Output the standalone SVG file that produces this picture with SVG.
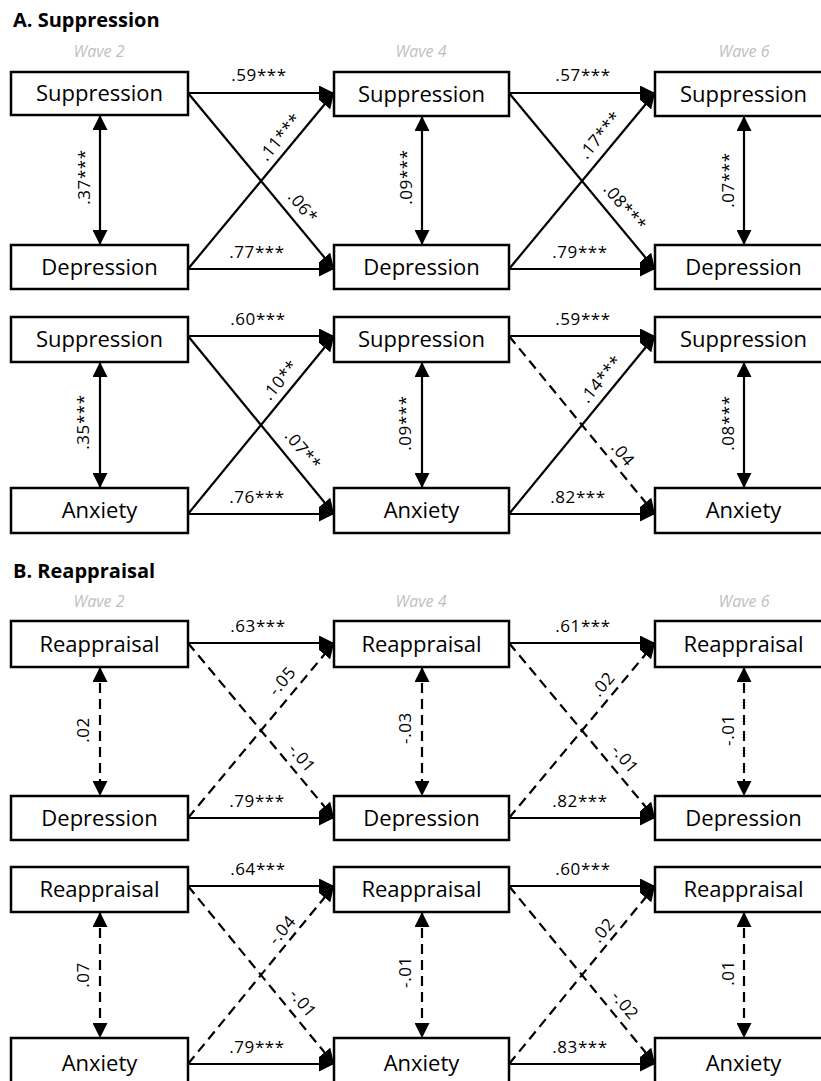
<svg xmlns="http://www.w3.org/2000/svg" width="821" height="1081" viewBox="0 0 821 1081">
<style>
.bg{fill:#fff}
.box{fill:#fff;stroke:#000;stroke-width:2.5}
.nt{font-family:"Open Sans","Liberation Sans",sans-serif;font-size:22px;fill:#000;text-anchor:middle}
.hd{font-family:"Open Sans","Liberation Sans",sans-serif;font-size:20px;font-weight:bold;fill:#000}
.wv{font-family:"Open Sans","Liberation Sans",sans-serif;font-size:16px;font-style:italic;fill:#bfbfbf;text-anchor:middle}
.lb{font-family:"Open Sans","Liberation Sans",sans-serif;font-size:17px;fill:#000;text-anchor:middle;letter-spacing:0.6px}
.ln{fill:none;stroke:#000;stroke-width:2.2;marker-end:url(#ah)}
.bi{fill:none;stroke:#000;stroke-width:2.2;marker-start:url(#ah);marker-end:url(#ah)}
.d{stroke-dasharray:10,6}
</style>
<defs>
<marker id="ah" markerUnits="userSpaceOnUse" markerWidth="15" markerHeight="15" viewBox="0 0 15 15" refX="15" refY="7.5" orient="auto-start-reverse">
<path d="M0,0 L15,7.5 L0,15 Z" fill="#000"/>
</marker>
</defs>
<rect class="bg" x="0" y="0" width="821" height="1081"/>

<g id="headers">
<text class="hd" x="13" y="27">A. Suppression</text>
<text class="hd" x="13" y="578">B. Reappraisal</text>
<text class="wv" x="99" y="57">Wave 2</text>
<text class="wv" x="421" y="57">Wave 4</text>
<text class="wv" x="744" y="57">Wave 6</text>
<text class="wv" x="99" y="607">Wave 2</text>
<text class="wv" x="421" y="607">Wave 4</text>
<text class="wv" x="744" y="607">Wave 6</text>
</g>

<g id="connectors">
<!-- Panel A top -->
<line class="ln" x1="188" y1="93" x2="334" y2="93"/>
<line class="ln" x1="188" y1="269" x2="334" y2="269"/>
<line class="ln" x1="188" y1="93" x2="334" y2="269"/>
<line class="ln" x1="188" y1="269" x2="334" y2="93"/>
<line class="ln" x1="509" y1="93" x2="655" y2="93"/>
<line class="ln" x1="509" y1="269" x2="655" y2="269"/>
<line class="ln" x1="509" y1="93" x2="655" y2="269"/>
<line class="ln" x1="509" y1="269" x2="655" y2="93"/>
<line class="bi" x1="100" y1="115" x2="100" y2="245"/>
<line class="bi" x1="422" y1="116" x2="422" y2="245"/>
<line class="bi" x1="744" y1="116" x2="744" y2="245"/>
<!-- Panel A bottom -->
<line class="ln" x1="188" y1="336" x2="334" y2="336"/>
<line class="ln" x1="188" y1="514" x2="334" y2="514"/>
<line class="ln" x1="188" y1="336" x2="334" y2="514"/>
<line class="ln" x1="188" y1="514" x2="334" y2="336"/>
<line class="ln" x1="509" y1="336" x2="655" y2="336"/>
<line class="ln" x1="509" y1="514" x2="655" y2="514"/>
<line class="ln d" x1="509" y1="336" x2="655" y2="514"/>
<line class="ln" x1="509" y1="514" x2="655" y2="336"/>
<line class="bi" x1="100" y1="362" x2="100" y2="488"/>
<line class="bi" x1="422" y1="362" x2="422" y2="488"/>
<line class="bi" x1="744" y1="362" x2="744" y2="488"/>
<!-- Panel B top -->
<line class="ln" x1="188" y1="643" x2="334" y2="643"/>
<line class="ln" x1="188" y1="818" x2="334" y2="818"/>
<line class="ln d" x1="188" y1="643" x2="334" y2="818"/>
<line class="ln d" x1="188" y1="818" x2="334" y2="643"/>
<line class="ln" x1="509" y1="643" x2="655" y2="643"/>
<line class="ln" x1="509" y1="818" x2="655" y2="818"/>
<line class="ln d" x1="509" y1="643" x2="655" y2="818"/>
<line class="ln d" x1="509" y1="818" x2="655" y2="643"/>
<line class="bi d" x1="100" y1="667" x2="100" y2="796"/>
<line class="bi d" x1="422" y1="667" x2="422" y2="796"/>
<line class="bi d" x1="744" y1="667" x2="744" y2="796"/>
<!-- Panel B bottom -->
<line class="ln" x1="188" y1="886" x2="334" y2="886"/>
<line class="ln" x1="188" y1="1064" x2="334" y2="1064"/>
<line class="ln d" x1="188" y1="886" x2="334" y2="1064"/>
<line class="ln d" x1="188" y1="1064" x2="334" y2="886"/>
<line class="ln" x1="509" y1="886" x2="655" y2="886"/>
<line class="ln" x1="509" y1="1064" x2="655" y2="1064"/>
<line class="ln d" x1="509" y1="886" x2="655" y2="1064"/>
<line class="ln d" x1="509" y1="1064" x2="655" y2="886"/>
<line class="bi d" x1="100" y1="912" x2="100" y2="1038"/>
<line class="bi d" x1="422" y1="912" x2="422" y2="1038"/>
<line class="bi d" x1="744" y1="912" x2="744" y2="1038"/>

<!-- labels -->
<text class="lb" x="259" y="81">.59***</text>
<text class="lb" x="257" y="258">.77***</text>
<text class="lb" x="583" y="81">.57***</text>
<text class="lb" x="580" y="258">.79***</text>
<text class="lb" transform="translate(84.5,177) rotate(-90)" dy="0.35em">.37***</text>
<text class="lb" transform="translate(406,177) rotate(-90)" dy="0.35em">.09***</text>
<text class="lb" transform="translate(728,180) rotate(-90)" dy="0.35em">.07***</text>
<text class="lb" transform="translate(280,137) rotate(-50)" dy="0.35em">.11***</text>
<text class="lb" transform="translate(303,207) rotate(50)" dy="0.35em">.06*</text>
<text class="lb" transform="translate(600,135) rotate(-50)" dy="0.35em">.17***</text>
<text class="lb" transform="translate(625,207) rotate(50)" dy="0.35em">.08***</text>

<text class="lb" x="258" y="325">.60***</text>
<text class="lb" x="257" y="503">.76***</text>
<text class="lb" x="583" y="325">.59***</text>
<text class="lb" x="578" y="503">.82***</text>
<text class="lb" transform="translate(83,422) rotate(-90)" dy="0.35em">.35***</text>
<text class="lb" transform="translate(405,423) rotate(-90)" dy="0.35em">.09***</text>
<text class="lb" transform="translate(728,423) rotate(-90)" dy="0.35em">.08***</text>
<text class="lb" transform="translate(280,380) rotate(-50)" dy="0.35em">.10**</text>
<text class="lb" transform="translate(303,450) rotate(50)" dy="0.35em">.07**</text>
<text class="lb" transform="translate(601,379) rotate(-50)" dy="0.35em">.14***</text>
<text class="lb" transform="translate(623,454) rotate(50)" dy="0.35em">.04</text>

<text class="lb" x="258" y="632">.63***</text>
<text class="lb" x="257" y="807">.79***</text>
<text class="lb" x="583" y="632">.61***</text>
<text class="lb" x="580" y="807">.82***</text>
<text class="lb" transform="translate(83,730) rotate(-90)" dy="0.35em">.02</text>
<text class="lb" transform="translate(405,728) rotate(-90)" dy="0.35em">-.03</text>
<text class="lb" transform="translate(728,730) rotate(-90)" dy="0.35em">-.01</text>
<text class="lb" transform="translate(282,681) rotate(-50)" dy="0.35em">-.05</text>
<text class="lb" transform="translate(302,758) rotate(50)" dy="0.35em">-.01</text>
<text class="lb" transform="translate(603,684) rotate(-50)" dy="0.35em">.02</text>
<text class="lb" transform="translate(625,759) rotate(50)" dy="0.35em">-.01</text>

<text class="lb" x="258" y="875">.64***</text>
<text class="lb" x="257" y="1053">.79***</text>
<text class="lb" x="583" y="875">.60***</text>
<text class="lb" x="580" y="1053">.83***</text>
<text class="lb" transform="translate(83,975) rotate(-90)" dy="0.35em">.07</text>
<text class="lb" transform="translate(405,972) rotate(-90)" dy="0.35em">-.01</text>
<text class="lb" transform="translate(728,973) rotate(-90)" dy="0.35em">.01</text>
<text class="lb" transform="translate(282,930) rotate(-50)" dy="0.35em">-.04</text>
<text class="lb" transform="translate(303,1003) rotate(50)" dy="0.35em">-.01</text>
<text class="lb" transform="translate(603,930) rotate(-50)" dy="0.35em">.02</text>
<text class="lb" transform="translate(625,1005) rotate(50)" dy="0.35em">-.02</text>
</g>

<!-- Panel A top nodes -->
<g id="a-sup-w2"><rect class="box" x="11" y="72" width="177" height="43"/><text class="nt" x="99.5" y="101">Suppression</text></g>
<g id="a-sup-w4"><rect class="box" x="334" y="72" width="175" height="44"/><text class="nt" x="421.5" y="101.5">Suppression</text></g>
<g id="a-sup-w6"><rect class="box" x="655" y="72" width="177" height="44"/><text class="nt" x="743.5" y="101.5">Suppression</text></g>
<g id="a-dep-w2"><rect class="box" x="11" y="245" width="177" height="44"/><text class="nt" x="99.5" y="274.5">Depression</text></g>
<g id="a-dep-w4"><rect class="box" x="334" y="245" width="175" height="44"/><text class="nt" x="421.5" y="274.5">Depression</text></g>
<g id="a-dep-w6"><rect class="box" x="655" y="245" width="177" height="44"/><text class="nt" x="743.5" y="274.5">Depression</text></g>
<!-- Panel A bottom nodes -->
<g id="a-sup2-w2"><rect class="box" x="11" y="317" width="177" height="45"/><text class="nt" x="99.5" y="347">Suppression</text></g>
<g id="a-sup2-w4"><rect class="box" x="334" y="317" width="175" height="45"/><text class="nt" x="421.5" y="347">Suppression</text></g>
<g id="a-sup2-w6"><rect class="box" x="655" y="317" width="177" height="45"/><text class="nt" x="743.5" y="347">Suppression</text></g>
<g id="a-anx-w2"><rect class="box" x="11" y="488" width="177" height="45"/><text class="nt" x="99.5" y="518">Anxiety</text></g>
<g id="a-anx-w4"><rect class="box" x="334" y="488" width="175" height="45"/><text class="nt" x="421.5" y="518">Anxiety</text></g>
<g id="a-anx-w6"><rect class="box" x="655" y="488" width="177" height="45"/><text class="nt" x="743.5" y="518">Anxiety</text></g>
<!-- Panel B top nodes -->
<g id="b-rea-w2"><rect class="box" x="11" y="621" width="177" height="46"/><text class="nt" x="99.5" y="651.5">Reappraisal</text></g>
<g id="b-rea-w4"><rect class="box" x="334" y="621" width="175" height="46"/><text class="nt" x="421.5" y="651.5">Reappraisal</text></g>
<g id="b-rea-w6"><rect class="box" x="655" y="621" width="177" height="46"/><text class="nt" x="743.5" y="651.5">Reappraisal</text></g>
<g id="b-dep-w2"><rect class="box" x="11" y="796" width="177" height="44"/><text class="nt" x="99.5" y="825.5">Depression</text></g>
<g id="b-dep-w4"><rect class="box" x="334" y="796" width="175" height="44"/><text class="nt" x="421.5" y="825.5">Depression</text></g>
<g id="b-dep-w6"><rect class="box" x="655" y="796" width="177" height="44"/><text class="nt" x="743.5" y="825.5">Depression</text></g>
<!-- Panel B bottom nodes -->
<g id="b-rea2-w2"><rect class="box" x="11" y="867" width="177" height="45"/><text class="nt" x="99.5" y="897">Reappraisal</text></g>
<g id="b-rea2-w4"><rect class="box" x="334" y="867" width="175" height="45"/><text class="nt" x="421.5" y="897">Reappraisal</text></g>
<g id="b-rea2-w6"><rect class="box" x="655" y="867" width="177" height="45"/><text class="nt" x="743.5" y="897">Reappraisal</text></g>
<g id="b-anx-w2"><rect class="box" x="11" y="1038" width="177" height="50"/><text class="nt" x="99.5" y="1071">Anxiety</text></g>
<g id="b-anx-w4"><rect class="box" x="334" y="1038" width="175" height="50"/><text class="nt" x="421.5" y="1071">Anxiety</text></g>
<g id="b-anx-w6"><rect class="box" x="655" y="1038" width="177" height="50"/><text class="nt" x="743.5" y="1071">Anxiety</text></g>
</svg>
